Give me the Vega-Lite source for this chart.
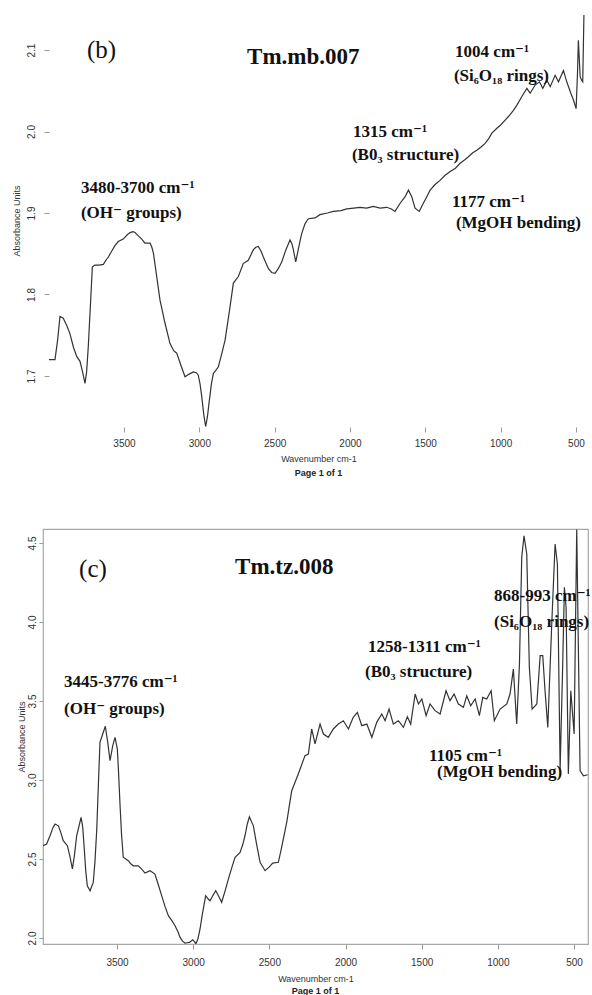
{
  "$schema": "https://vega.github.io/schema/vega-lite/v6.json",
  "padding": {"left": 11, "top": 14, "right": 2, "bottom": 0},
  "background": "white",
  "columns": 1,
  "spacing": 50,
  "config": {
    "view": {"stroke": "#a8a8a8", "strokeWidth": 1.2},
    "axis": {
      "grid": false, "domain": false, "tickColor": "#9a9a9a", "tickWidth": 1,
      "labelFont": "Liberation Sans", "labelFontSize": 10, "labelColor": "#333",
      "titleFont": "Liberation Sans", "titleFontSize": 9, "titleFontWeight": "normal", "titleColor": "#333",
      "labelFlush": false, "labelOverlap": false
    }
  },
  "datasets": {
    "spec_b": [
      {"wavenumber": 3998, "absorbance": 1.720}, {"wavenumber": 3958, "absorbance": 1.720}, {"wavenumber": 3940, "absorbance": 1.745},
      {"wavenumber": 3925, "absorbance": 1.773}, {"wavenumber": 3903, "absorbance": 1.771}, {"wavenumber": 3880, "absorbance": 1.762},
      {"wavenumber": 3859, "absorbance": 1.752}, {"wavenumber": 3835, "absorbance": 1.735}, {"wavenumber": 3814, "absorbance": 1.724},
      {"wavenumber": 3792, "absorbance": 1.718}, {"wavenumber": 3775, "absorbance": 1.705}, {"wavenumber": 3759, "absorbance": 1.691},
      {"wavenumber": 3748, "absorbance": 1.705}, {"wavenumber": 3737, "absorbance": 1.736}, {"wavenumber": 3722, "absorbance": 1.790},
      {"wavenumber": 3710, "absorbance": 1.834}, {"wavenumber": 3693, "absorbance": 1.836}, {"wavenumber": 3665, "absorbance": 1.836},
      {"wavenumber": 3637, "absorbance": 1.837}, {"wavenumber": 3620, "absorbance": 1.842}, {"wavenumber": 3604, "absorbance": 1.846},
      {"wavenumber": 3582, "absorbance": 1.853}, {"wavenumber": 3560, "absorbance": 1.860}, {"wavenumber": 3538, "absorbance": 1.865},
      {"wavenumber": 3505, "absorbance": 1.868}, {"wavenumber": 3480, "absorbance": 1.873}, {"wavenumber": 3460, "absorbance": 1.876},
      {"wavenumber": 3440, "absorbance": 1.877}, {"wavenumber": 3427, "absorbance": 1.876}, {"wavenumber": 3405, "absorbance": 1.872},
      {"wavenumber": 3382, "absorbance": 1.868}, {"wavenumber": 3361, "absorbance": 1.863}, {"wavenumber": 3327, "absorbance": 1.863},
      {"wavenumber": 3315, "absorbance": 1.858}, {"wavenumber": 3305, "absorbance": 1.851}, {"wavenumber": 3285, "absorbance": 1.825},
      {"wavenumber": 3261, "absorbance": 1.793}, {"wavenumber": 3228, "absorbance": 1.765}, {"wavenumber": 3195, "absorbance": 1.740},
      {"wavenumber": 3170, "absorbance": 1.731}, {"wavenumber": 3150, "absorbance": 1.728}, {"wavenumber": 3120, "absorbance": 1.712},
      {"wavenumber": 3095, "absorbance": 1.699}, {"wavenumber": 3070, "absorbance": 1.702}, {"wavenumber": 3040, "absorbance": 1.705},
      {"wavenumber": 3020, "absorbance": 1.704}, {"wavenumber": 3007, "absorbance": 1.701}, {"wavenumber": 2995, "absorbance": 1.690},
      {"wavenumber": 2984, "absorbance": 1.675}, {"wavenumber": 2970, "absorbance": 1.652}, {"wavenumber": 2958, "absorbance": 1.638},
      {"wavenumber": 2946, "absorbance": 1.650}, {"wavenumber": 2936, "absorbance": 1.666}, {"wavenumber": 2920, "absorbance": 1.690},
      {"wavenumber": 2907, "absorbance": 1.703}, {"wavenumber": 2874, "absorbance": 1.711}, {"wavenumber": 2850, "absorbance": 1.728},
      {"wavenumber": 2829, "absorbance": 1.744}, {"wavenumber": 2800, "absorbance": 1.780}, {"wavenumber": 2774, "absorbance": 1.814},
      {"wavenumber": 2741, "absorbance": 1.822}, {"wavenumber": 2708, "absorbance": 1.838}, {"wavenumber": 2675, "absorbance": 1.842},
      {"wavenumber": 2641, "absorbance": 1.855}, {"wavenumber": 2625, "absorbance": 1.858}, {"wavenumber": 2608, "absorbance": 1.859},
      {"wavenumber": 2590, "absorbance": 1.853}, {"wavenumber": 2575, "absorbance": 1.846}, {"wavenumber": 2542, "absorbance": 1.832},
      {"wavenumber": 2520, "absorbance": 1.827}, {"wavenumber": 2497, "absorbance": 1.826}, {"wavenumber": 2475, "absorbance": 1.832},
      {"wavenumber": 2453, "absorbance": 1.840}, {"wavenumber": 2425, "absorbance": 1.855}, {"wavenumber": 2398, "absorbance": 1.867},
      {"wavenumber": 2385, "absorbance": 1.862}, {"wavenumber": 2376, "absorbance": 1.855}, {"wavenumber": 2360, "absorbance": 1.840},
      {"wavenumber": 2340, "absorbance": 1.858}, {"wavenumber": 2320, "absorbance": 1.875}, {"wavenumber": 2298, "absorbance": 1.887},
      {"wavenumber": 2276, "absorbance": 1.893}, {"wavenumber": 2232, "absorbance": 1.894}, {"wavenumber": 2199, "absorbance": 1.898},
      {"wavenumber": 2150, "absorbance": 1.900}, {"wavenumber": 2110, "absorbance": 1.902}, {"wavenumber": 2060, "absorbance": 1.903},
      {"wavenumber": 2021, "absorbance": 1.905}, {"wavenumber": 1975, "absorbance": 1.906}, {"wavenumber": 1933, "absorbance": 1.907},
      {"wavenumber": 1890, "absorbance": 1.906}, {"wavenumber": 1845, "absorbance": 1.908}, {"wavenumber": 1800, "absorbance": 1.906},
      {"wavenumber": 1756, "absorbance": 1.907}, {"wavenumber": 1725, "absorbance": 1.905}, {"wavenumber": 1701, "absorbance": 1.902},
      {"wavenumber": 1667, "absorbance": 1.912}, {"wavenumber": 1634, "absorbance": 1.920}, {"wavenumber": 1612, "absorbance": 1.928},
      {"wavenumber": 1590, "absorbance": 1.920}, {"wavenumber": 1568, "absorbance": 1.906}, {"wavenumber": 1540, "absorbance": 1.902},
      {"wavenumber": 1513, "absorbance": 1.912}, {"wavenumber": 1490, "absorbance": 1.920}, {"wavenumber": 1468, "absorbance": 1.928},
      {"wavenumber": 1435, "absorbance": 1.935}, {"wavenumber": 1402, "absorbance": 1.940}, {"wavenumber": 1370, "absorbance": 1.946},
      {"wavenumber": 1335, "absorbance": 1.951}, {"wavenumber": 1300, "absorbance": 1.955}, {"wavenumber": 1269, "absorbance": 1.961},
      {"wavenumber": 1240, "absorbance": 1.965}, {"wavenumber": 1214, "absorbance": 1.969}, {"wavenumber": 1185, "absorbance": 1.974},
      {"wavenumber": 1158, "absorbance": 1.977}, {"wavenumber": 1130, "absorbance": 1.981}, {"wavenumber": 1103, "absorbance": 1.9855},
      {"wavenumber": 1080, "absorbance": 1.991}, {"wavenumber": 1058, "absorbance": 1.998}, {"wavenumber": 1025, "absorbance": 2.004},
      {"wavenumber": 1000, "absorbance": 2.008}, {"wavenumber": 970, "absorbance": 2.014}, {"wavenumber": 945, "absorbance": 2.019},
      {"wavenumber": 915, "absorbance": 2.026}, {"wavenumber": 890, "absorbance": 2.033}, {"wavenumber": 859, "absorbance": 2.043},
      {"wavenumber": 826, "absorbance": 2.053}, {"wavenumber": 804, "absorbance": 2.047}, {"wavenumber": 771, "absorbance": 2.057},
      {"wavenumber": 742, "absorbance": 2.061}, {"wavenumber": 720, "absorbance": 2.053}, {"wavenumber": 693, "absorbance": 2.063},
      {"wavenumber": 671, "absorbance": 2.055}, {"wavenumber": 638, "absorbance": 2.069}, {"wavenumber": 616, "absorbance": 2.061},
      {"wavenumber": 583, "absorbance": 2.075}, {"wavenumber": 561, "absorbance": 2.061}, {"wavenumber": 534, "absorbance": 2.047},
      {"wavenumber": 517, "absorbance": 2.039}, {"wavenumber": 499, "absorbance": 2.028}, {"wavenumber": 490, "absorbance": 2.070},
      {"wavenumber": 484, "absorbance": 2.112}, {"wavenumber": 478, "absorbance": 2.090}, {"wavenumber": 472, "absorbance": 2.067},
      {"wavenumber": 462, "absorbance": 2.063}, {"wavenumber": 455, "absorbance": 2.061}, {"wavenumber": 447, "absorbance": 2.143}
    ],
    "spec_c": [
      {"wavenumber": 3986, "absorbance": 2.584}, {"wavenumber": 3962, "absorbance": 2.595}, {"wavenumber": 3940, "absorbance": 2.647},
      {"wavenumber": 3920, "absorbance": 2.700}, {"wavenumber": 3907, "absorbance": 2.721}, {"wavenumber": 3885, "absorbance": 2.710},
      {"wavenumber": 3870, "absorbance": 2.670}, {"wavenumber": 3853, "absorbance": 2.616}, {"wavenumber": 3840, "absorbance": 2.600},
      {"wavenumber": 3826, "absorbance": 2.584}, {"wavenumber": 3810, "absorbance": 2.520}, {"wavenumber": 3793, "absorbance": 2.437},
      {"wavenumber": 3780, "absorbance": 2.520}, {"wavenumber": 3765, "absorbance": 2.647}, {"wavenumber": 3736, "absorbance": 2.764},
      {"wavenumber": 3725, "absorbance": 2.700}, {"wavenumber": 3715, "absorbance": 2.563}, {"wavenumber": 3705, "absorbance": 2.420},
      {"wavenumber": 3695, "absorbance": 2.331}, {"wavenumber": 3677, "absorbance": 2.299}, {"wavenumber": 3656, "absorbance": 2.352},
      {"wavenumber": 3645, "absorbance": 2.480}, {"wavenumber": 3633, "absorbance": 2.690}, {"wavenumber": 3622, "absorbance": 2.980},
      {"wavenumber": 3612, "absorbance": 3.238}, {"wavenumber": 3594, "absorbance": 3.291}, {"wavenumber": 3577, "absorbance": 3.340},
      {"wavenumber": 3561, "absorbance": 3.238}, {"wavenumber": 3546, "absorbance": 3.122}, {"wavenumber": 3528, "absorbance": 3.217},
      {"wavenumber": 3513, "absorbance": 3.270}, {"wavenumber": 3498, "absorbance": 3.196}, {"wavenumber": 3490, "absorbance": 3.050},
      {"wavenumber": 3480, "absorbance": 2.837}, {"wavenumber": 3470, "absorbance": 2.650}, {"wavenumber": 3459, "absorbance": 2.511},
      {"wavenumber": 3426, "absorbance": 2.489}, {"wavenumber": 3410, "absorbance": 2.470}, {"wavenumber": 3393, "absorbance": 2.457},
      {"wavenumber": 3360, "absorbance": 2.457}, {"wavenumber": 3338, "absorbance": 2.436}, {"wavenumber": 3316, "absorbance": 2.411},
      {"wavenumber": 3283, "absorbance": 2.426}, {"wavenumber": 3251, "absorbance": 2.405}, {"wavenumber": 3230, "absorbance": 2.340},
      {"wavenumber": 3207, "absorbance": 2.268}, {"wavenumber": 3185, "absorbance": 2.200}, {"wavenumber": 3163, "absorbance": 2.141},
      {"wavenumber": 3140, "absorbance": 2.110}, {"wavenumber": 3119, "absorbance": 2.078}, {"wavenumber": 3100, "absorbance": 2.040},
      {"wavenumber": 3086, "absorbance": 2.004}, {"wavenumber": 3070, "absorbance": 1.980}, {"wavenumber": 3054, "absorbance": 1.968},
      {"wavenumber": 3040, "absorbance": 1.970}, {"wavenumber": 3025, "absorbance": 1.972}, {"wavenumber": 3003, "absorbance": 1.989},
      {"wavenumber": 2990, "absorbance": 1.975}, {"wavenumber": 2983, "absorbance": 1.963}, {"wavenumber": 2970, "absorbance": 1.990},
      {"wavenumber": 2955, "absorbance": 2.057}, {"wavenumber": 2940, "absorbance": 2.150}, {"wavenumber": 2918, "absorbance": 2.268},
      {"wavenumber": 2900, "absorbance": 2.245}, {"wavenumber": 2889, "absorbance": 2.236}, {"wavenumber": 2870, "absorbance": 2.270},
      {"wavenumber": 2852, "absorbance": 2.299}, {"wavenumber": 2830, "absorbance": 2.260}, {"wavenumber": 2813, "absorbance": 2.226},
      {"wavenumber": 2790, "absorbance": 2.300}, {"wavenumber": 2769, "absorbance": 2.373}, {"wavenumber": 2745, "absorbance": 2.450},
      {"wavenumber": 2725, "absorbance": 2.511}, {"wavenumber": 2692, "absorbance": 2.542}, {"wavenumber": 2675, "absorbance": 2.590},
      {"wavenumber": 2660, "absorbance": 2.647}, {"wavenumber": 2645, "absorbance": 2.720}, {"wavenumber": 2631, "absorbance": 2.767},
      {"wavenumber": 2605, "absorbance": 2.710}, {"wavenumber": 2585, "absorbance": 2.600}, {"wavenumber": 2561, "absorbance": 2.479},
      {"wavenumber": 2528, "absorbance": 2.426}, {"wavenumber": 2500, "absorbance": 2.450}, {"wavenumber": 2478, "absorbance": 2.474},
      {"wavenumber": 2441, "absorbance": 2.479}, {"wavenumber": 2420, "absorbance": 2.570}, {"wavenumber": 2386, "absorbance": 2.732},
      {"wavenumber": 2370, "absorbance": 2.830}, {"wavenumber": 2353, "absorbance": 2.932}, {"wavenumber": 2310, "absorbance": 3.038},
      {"wavenumber": 2266, "absorbance": 3.154}, {"wavenumber": 2244, "absorbance": 3.164}, {"wavenumber": 2222, "absorbance": 3.323},
      {"wavenumber": 2200, "absorbance": 3.228}, {"wavenumber": 2178, "absorbance": 3.312}, {"wavenumber": 2167, "absorbance": 3.354},
      {"wavenumber": 2145, "absorbance": 3.291}, {"wavenumber": 2113, "absorbance": 3.270}, {"wavenumber": 2080, "absorbance": 3.323},
      {"wavenumber": 2047, "absorbance": 3.354}, {"wavenumber": 2014, "absorbance": 3.375}, {"wavenumber": 1981, "absorbance": 3.323},
      {"wavenumber": 1949, "absorbance": 3.397}, {"wavenumber": 1922, "absorbance": 3.428}, {"wavenumber": 1893, "absorbance": 3.344},
      {"wavenumber": 1860, "absorbance": 3.354}, {"wavenumber": 1827, "absorbance": 3.270}, {"wavenumber": 1795, "absorbance": 3.365},
      {"wavenumber": 1762, "absorbance": 3.418}, {"wavenumber": 1740, "absorbance": 3.375}, {"wavenumber": 1714, "absorbance": 3.449},
      {"wavenumber": 1686, "absorbance": 3.354}, {"wavenumber": 1653, "absorbance": 3.375}, {"wavenumber": 1620, "absorbance": 3.333},
      {"wavenumber": 1594, "absorbance": 3.400}, {"wavenumber": 1572, "absorbance": 3.354}, {"wavenumber": 1543, "absorbance": 3.544},
      {"wavenumber": 1521, "absorbance": 3.481}, {"wavenumber": 1499, "absorbance": 3.513}, {"wavenumber": 1471, "absorbance": 3.407},
      {"wavenumber": 1445, "absorbance": 3.481}, {"wavenumber": 1412, "absorbance": 3.439}, {"wavenumber": 1379, "absorbance": 3.418},
      {"wavenumber": 1340, "absorbance": 3.565}, {"wavenumber": 1314, "absorbance": 3.502}, {"wavenumber": 1287, "absorbance": 3.544},
      {"wavenumber": 1259, "absorbance": 3.481}, {"wavenumber": 1226, "absorbance": 3.460}, {"wavenumber": 1204, "absorbance": 3.533},
      {"wavenumber": 1178, "absorbance": 3.470}, {"wavenumber": 1149, "absorbance": 3.513}, {"wavenumber": 1121, "absorbance": 3.407},
      {"wavenumber": 1099, "absorbance": 3.523}, {"wavenumber": 1073, "absorbance": 3.513}, {"wavenumber": 1044, "absorbance": 3.565},
      {"wavenumber": 1023, "absorbance": 3.375}, {"wavenumber": 985, "absorbance": 3.449}, {"wavenumber": 941, "absorbance": 3.481},
      {"wavenumber": 920, "absorbance": 3.544}, {"wavenumber": 898, "absorbance": 3.702}, {"wavenumber": 876, "absorbance": 3.354},
      {"wavenumber": 858, "absorbance": 3.734}, {"wavenumber": 843, "absorbance": 4.410}, {"wavenumber": 828, "absorbance": 4.546},
      {"wavenumber": 810, "absorbance": 4.430}, {"wavenumber": 793, "absorbance": 3.713}, {"wavenumber": 775, "absorbance": 3.449},
      {"wavenumber": 744, "absorbance": 3.481}, {"wavenumber": 722, "absorbance": 3.787}, {"wavenumber": 705, "absorbance": 3.787},
      {"wavenumber": 690, "absorbance": 3.565}, {"wavenumber": 672, "absorbance": 3.333}, {"wavenumber": 646, "absorbance": 3.987},
      {"wavenumber": 624, "absorbance": 4.494}, {"wavenumber": 609, "absorbance": 4.367}, {"wavenumber": 591, "absorbance": 3.069},
      {"wavenumber": 574, "absorbance": 3.734}, {"wavenumber": 563, "absorbance": 4.220}, {"wavenumber": 552, "absorbance": 4.093},
      {"wavenumber": 537, "absorbance": 3.038}, {"wavenumber": 521, "absorbance": 3.565}, {"wavenumber": 499, "absorbance": 3.291},
      {"wavenumber": 482, "absorbance": 4.585}, {"wavenumber": 460, "absorbance": 3.059}, {"wavenumber": 438, "absorbance": 3.027},
      {"wavenumber": 410, "absorbance": 3.033}
    ],
    "notes": [
      {"panel": "b", "kind": "panel", "label": "(b)", "wavenumber": 3746, "absorbance": 2.100},
      {"panel": "b", "kind": "sample", "label": "Tm.mb.007", "wavenumber": 2683, "absorbance": 2.091},
      {"panel": "b", "kind": "band", "label": "3480-3700 cm⁻¹", "wavenumber": 3786, "absorbance": 1.931},
      {"panel": "b", "kind": "band", "label": "(OH⁻ groups)", "wavenumber": 3786, "absorbance": 1.900},
      {"panel": "b", "kind": "band", "label": "1004 cm⁻¹", "wavenumber": 1302, "absorbance": 2.0975},
      {"panel": "b", "kind": "band", "label": "(Si₆O₁₈ rings)", "wavenumber": 1310, "absorbance": 2.068},
      {"panel": "b", "kind": "band", "label": "1315 cm⁻¹", "wavenumber": 1980, "absorbance": 2.000},
      {"panel": "b", "kind": "band", "label": "(B0₃ structure)", "wavenumber": 1987, "absorbance": 1.971},
      {"panel": "b", "kind": "band", "label": "1177 cm⁻¹", "wavenumber": 1323, "absorbance": 1.9135},
      {"panel": "b", "kind": "band", "label": "(MgOH bending)", "wavenumber": 1297, "absorbance": 1.888},
      {"panel": "c", "kind": "panel", "label": "(c)", "wavenumber": 3749, "absorbance": 4.335},
      {"panel": "c", "kind": "sample", "label": "Tm.tz.008", "wavenumber": 2725, "absorbance": 4.348},
      {"panel": "c", "kind": "band", "label": "3445-3776 cm⁻¹", "wavenumber": 3848, "absorbance": 3.620},
      {"panel": "c", "kind": "band", "label": "(OH⁻ groups)", "wavenumber": 3848, "absorbance": 3.449},
      {"panel": "c", "kind": "band", "label": "868-993 cm⁻¹", "wavenumber": 1025, "absorbance": 4.165},
      {"panel": "c", "kind": "band", "label": "(Si₆O₁₈ rings)", "wavenumber": 1025, "absorbance": 4.000},
      {"panel": "c", "kind": "band", "label": "1258-1311 cm⁻¹", "wavenumber": 1852, "absorbance": 3.842},
      {"panel": "c", "kind": "band", "label": "(B0₃ structure)", "wavenumber": 1872, "absorbance": 3.683},
      {"panel": "c", "kind": "band", "label": "1105 cm⁻¹", "wavenumber": 1452, "absorbance": 3.152},
      {"panel": "c", "kind": "band", "label": "(MgOH bending)", "wavenumber": 1399, "absorbance": 3.050}
    ]
  },
  "concat": [
    {
      "width": 545,
      "height": 413,
      "view": {"stroke": null},
      "title": {"text": "Page 1 of 1", "orient": "bottom", "frame": "group", "anchor": "middle", "dx": 3, "font": "Liberation Sans", "fontSize": 9, "fontWeight": "bold", "color": "#222", "offset": 6},
      "encoding": {
        "x": {"field": "wavenumber", "type": "quantitative",
              "scale": {"domain": [420, 4037.6], "reverse": true, "nice": false, "zero": false},
              "axis": {"values": [3500, 3000, 2500, 2000, 1500, 1000, 500], "format": "d", "tickSize": 5, "labelPadding": 6, "title": "Wavenumber cm-1", "titlePadding": 6, "titleX": 275.5}},
        "y": {"field": "absorbance", "type": "quantitative",
              "scale": {"domain": [1.6374, 2.1442], "nice": false, "zero": false},
              "axis": {"values": [1.7, 1.8, 1.9, 2.0, 2.1], "format": ".1f", "offset": -6, "tickSize": 5, "labelAngle": 270, "labelAlign": "center", "labelBaseline": "bottom", "labelPadding": 8, "title": "Absorbance Units", "titlePadding": 5}}
      },
      "layer": [
        {"mark": {"type": "rect", "fill": null, "stroke": "#a8a8a8", "strokeWidth": 1.2},
         "encoding": {"x": {"datum": 3998, "type": "quantitative"}, "x2": {"datum": 420}, "y": {"datum": 1.6374, "type": "quantitative"}, "y2": {"datum": 2.1442}}},
        {"data": {"name": "spec_b"}, "mark": {"type": "line", "color": "#333", "strokeWidth": 1.2, "clip": true}},
        {"data": {"name": "notes"}, "transform": [{"filter": "datum.panel === 'b' && datum.kind === 'panel'"}],
         "mark": {"type": "text", "align": "left", "baseline": "middle", "font": "Liberation Serif", "fontSize": 25, "color": "#111"},
         "encoding": {"text": {"field": "label"}}},
        {"data": {"name": "notes"}, "transform": [{"filter": "datum.panel === 'b' && datum.kind === 'sample'"}],
         "mark": {"type": "text", "align": "left", "baseline": "middle", "font": "Liberation Serif", "fontWeight": "bold", "fontSize": 23, "color": "#111"},
         "encoding": {"text": {"field": "label"}}},
        {"data": {"name": "notes"}, "transform": [{"filter": "datum.panel === 'b' && datum.kind === 'band'"}],
         "mark": {"type": "text", "align": "left", "baseline": "middle", "font": "Liberation Serif, DejaVu Serif", "fontWeight": "bold", "fontSize": 17, "color": "#111"},
         "encoding": {"text": {"field": "label"}}}
      ]
    },
    {
      "width": 545,
      "height": 415,
      "title": {"text": "Page 1 of 1", "orient": "bottom", "frame": "group", "anchor": "middle", "font": "Liberation Sans", "fontSize": 9, "fontWeight": "bold", "color": "#222", "offset": 4},
      "encoding": {
        "x": {"field": "wavenumber", "type": "quantitative",
              "scale": {"domain": [408, 3986], "reverse": true, "nice": false, "zero": false},
              "axis": {"values": [3500, 3000, 2500, 2000, 1500, 1000, 500], "format": "d", "tickSize": 5, "labelPadding": 8, "title": "Wavenumber cm-1", "titlePadding": 7}},
        "y": {"field": "absorbance", "type": "quantitative",
              "scale": {"domain": [1.962, 4.5886], "nice": false, "zero": false},
              "axis": {"values": [2.0, 2.5, 3.0, 3.5, 4.0, 4.5], "format": ".1f", "tickSize": 4, "labelAngle": 270, "labelAlign": "center", "labelBaseline": "bottom", "labelPadding": 2, "title": "Absorbance Units", "titlePadding": 1}}
      },
      "layer": [
        {"data": {"name": "spec_c"}, "mark": {"type": "line", "color": "#333", "strokeWidth": 1.2, "clip": true}},
        {"data": {"name": "notes"}, "transform": [{"filter": "datum.panel === 'c' && datum.kind === 'panel'"}],
         "mark": {"type": "text", "align": "left", "baseline": "middle", "font": "Liberation Serif", "fontSize": 25, "color": "#111"},
         "encoding": {"text": {"field": "label"}}},
        {"data": {"name": "notes"}, "transform": [{"filter": "datum.panel === 'c' && datum.kind === 'sample'"}],
         "mark": {"type": "text", "align": "left", "baseline": "middle", "font": "Liberation Serif", "fontWeight": "bold", "fontSize": 23, "color": "#111"},
         "encoding": {"text": {"field": "label"}}},
        {"data": {"name": "notes"}, "transform": [{"filter": "datum.panel === 'c' && datum.kind === 'band'"}],
         "mark": {"type": "text", "align": "left", "baseline": "middle", "font": "Liberation Serif, DejaVu Serif", "fontWeight": "bold", "fontSize": 17, "color": "#111"},
         "encoding": {"text": {"field": "label"}}}
      ]
    }
  ]
}
